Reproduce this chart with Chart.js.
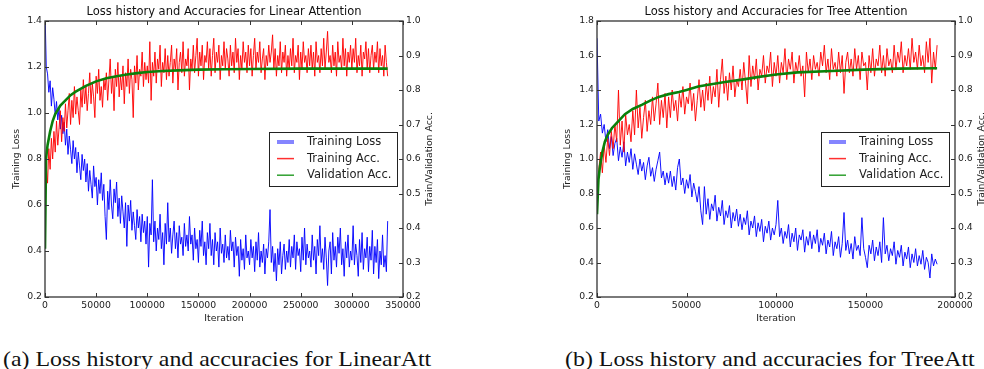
<!DOCTYPE html>
<html>
<head>
<meta charset="utf-8">
<script src="https://cdn.jsdelivr.net/npm/chart.js@4"></script>
<style>
  html, body { margin: 0; padding: 0; background: #fff; overflow: hidden; }
  body { width: 984px; height: 369px; position: relative; }
  .plot { position: absolute; top: 0; height: 330px; }
  .caption { position: absolute; top: 347px; font: 22px "Liberation Serif", serif; line-height: 24px; color: #111;
    white-space: nowrap; transform: scaleX(1.085); transform-origin: left center; }
</style>
</head>
<body>
<div class="plot" style="left:0;width:448px"><canvas id="chartA" width="448" height="330"></canvas></div>
<div class="plot" style="left:540px;width:472px"><canvas id="chartB" width="472" height="330"></canvas></div>
<div class="caption" style="left:3px">(a) Loss history and accuracies for LinearAtt</div>
<div class="caption" style="left:565px">(b) Loss history and accuracies for TreeAtt</div>
<script>
// (a) Linear Attention: one sample every 1250 iterations, 16 per row (20000 iterations)
const iterStepA = 1250;
const lossA = [
  1.45, 1.20, 1.17, 1.09, 1.14, 1.03, 1.11, 1.06, 0.99, 1.05, 0.97, 1.02, 0.93, 0.99, 0.91, 0.96,
  0.86, 0.93, 0.82, 0.90, 0.84, 0.78, 0.88, 0.80, 0.85, 0.74, 0.83, 0.77, 0.71, 0.82, 0.75, 0.80,
  0.70, 0.78, 0.66, 0.75, 0.69, 0.63, 0.77, 0.68, 0.72, 0.60, 0.71, 0.65, 0.74, 0.62, 0.69, 0.55,
  0.45, 0.66, 0.58, 0.71, 0.60, 0.54, 0.67, 0.61, 0.70, 0.55, 0.63, 0.52, 0.64, 0.57, 0.50, 0.61,
  0.42, 0.60, 0.53, 0.62, 0.49, 0.57, 0.51, 0.45, 0.58, 0.50, 0.55, 0.44, 0.56, 0.48, 0.53, 0.43,
  0.55, 0.33, 0.52, 0.47, 0.71, 0.44, 0.53, 0.40, 0.50, 0.45, 0.56, 0.41, 0.48, 0.34, 0.52, 0.43,
  0.61, 0.44, 0.50, 0.39, 0.47, 0.53, 0.41, 0.48, 0.37, 0.51, 0.43, 0.46, 0.38, 0.52, 0.42, 0.47,
  0.40, 0.55, 0.43, 0.47, 0.36, 0.50, 0.41, 0.45, 0.35, 0.49, 0.42, 0.53, 0.38, 0.44, 0.34, 0.48,
  0.41, 0.52, 0.38, 0.45, 0.34, 0.48, 0.40, 0.44, 0.33, 0.50, 0.39, 0.43, 0.35, 0.47, 0.37, 0.42,
  0.36, 0.49, 0.40, 0.44, 0.33, 0.46, 0.38, 0.42, 0.29, 0.45, 0.36, 0.41, 0.32, 0.47, 0.37, 0.40,
  0.34, 0.45, 0.37, 0.42, 0.31, 0.44, 0.36, 0.48, 0.33, 0.40, 0.35, 0.43, 0.30, 0.41, 0.37, 0.44,
  0.58, 0.35, 0.42, 0.31, 0.39, 0.27, 0.41, 0.34, 0.44, 0.30, 0.38, 0.43, 0.32, 0.40, 0.35, 0.45,
  0.33, 0.42, 0.37, 0.47, 0.32, 0.44, 0.38, 0.41, 0.31, 0.46, 0.36, 0.50, 0.34, 0.43, 0.37, 0.40,
  0.33, 0.47, 0.36, 0.42, 0.30, 0.45, 0.38, 0.51, 0.35, 0.41, 0.32, 0.46, 0.37, 0.25, 0.40, 0.44,
  0.30, 0.48, 0.36, 0.42, 0.33, 0.46, 0.39, 0.50, 0.34, 0.41, 0.29, 0.44, 0.37, 0.47, 0.33, 0.40,
  0.36, 0.51, 0.34, 0.43, 0.38, 0.29, 0.45, 0.35, 0.48, 0.32, 0.41, 0.37, 0.46, 0.31, 0.42, 0.36,
  0.49, 0.30, 0.42, 0.35, 0.45, 0.28, 0.40, 0.34, 0.47, 0.33, 0.38, 0.31, 0.53
];
const trainAccA = [
  0.48, 0.58, 0.53, 0.63, 0.57, 0.66, 0.60, 0.68, 0.62, 0.71, 0.64, 0.69, 0.74, 0.65, 0.72, 0.68,
  0.76, 0.69, 0.74, 0.79, 0.70, 0.77, 0.72, 0.81, 0.73, 0.78, 0.74, 0.70, 0.80, 0.75, 0.83, 0.76,
  0.81, 0.74, 0.79, 0.85, 0.76, 0.82, 0.78, 0.72, 0.84, 0.79, 0.86, 0.77, 0.81, 0.75, 0.83, 0.80,
  0.85, 0.77, 0.83, 0.89, 0.79, 0.84, 0.74, 0.86, 0.81, 0.88, 0.78, 0.84, 0.80, 0.87, 0.76, 0.85,
  0.81, 0.89, 0.79, 0.86, 0.83, 0.72, 0.87, 0.82, 0.90, 0.80, 0.86, 0.84, 0.91, 0.81, 0.88, 0.83,
  0.87, 0.82, 0.94, 0.77, 0.88, 0.84, 0.91, 0.82, 0.89, 0.86, 0.93, 0.81, 0.88, 0.85, 0.92, 0.83,
  0.90, 0.84, 0.88, 0.93, 0.82, 0.89, 0.86, 0.92, 0.80, 0.88, 0.91, 0.85, 0.94, 0.84, 0.89, 0.87,
  0.92, 0.80, 0.89, 0.86, 0.93, 0.85, 0.90, 0.95, 0.84, 0.91, 0.87, 0.93, 0.83, 0.90, 0.88, 0.94,
  0.86, 0.92, 0.84, 0.90, 0.95, 0.85, 0.91, 0.88, 0.93, 0.83, 0.90, 0.87, 0.94, 0.86, 0.92, 0.89,
  0.84, 0.93, 0.87, 0.91, 0.85, 0.95, 0.88, 0.92, 0.83, 0.90, 0.86, 0.94, 0.88, 0.91, 0.85, 0.93,
  0.87, 0.92, 0.84, 0.90, 0.95, 0.86, 0.91, 0.88, 0.94, 0.85, 0.89, 0.92, 0.83, 0.90, 0.87, 0.93,
  0.88, 0.91, 0.96, 0.86, 0.92, 0.84, 0.90, 0.87, 0.94, 0.85, 0.91, 0.88, 0.93, 0.84, 0.90, 0.86,
  0.92, 0.87, 0.95, 0.85, 0.90, 0.88, 0.93, 0.83, 0.91, 0.86, 0.94, 0.88, 0.90, 0.85, 0.92, 0.87,
  0.93, 0.86, 0.91, 0.84, 0.94, 0.88, 0.90, 0.85, 0.92, 0.87, 0.95, 0.86, 0.91, 0.97, 0.88, 0.90,
  0.85, 0.93, 0.87, 0.91, 0.84, 0.94, 0.88, 0.90, 0.86, 0.95, 0.87, 0.92, 0.84, 0.91, 0.88, 0.93,
  0.86, 0.92, 0.88, 0.95, 0.85, 0.90, 0.87, 0.93, 0.84, 0.91, 0.89, 0.94, 0.86, 0.92, 0.85, 0.90,
  0.93, 0.86, 0.91, 0.88, 0.94, 0.85, 0.92, 0.87, 0.90, 0.84, 0.93, 0.88, 0.84
];
const valIterA = [0, 1000, 2500, 5000, 7500, 10000, 15000, 20000, 25000, 30000, 40000, 50000, 60000,
  70000, 80000, 90000, 100000, 115000, 130000, 150000, 175000, 200000, 250000, 300000, 335000];
const valAccA = [0.34, 0.60, 0.64, 0.68, 0.71, 0.73, 0.755, 0.77, 0.785, 0.795, 0.812, 0.825, 0.834,
  0.840, 0.845, 0.849, 0.852, 0.855, 0.857, 0.859, 0.860, 0.861, 0.862, 0.862, 0.862];
const iterTicksA = [0, 50000, 100000, 150000, 200000, 250000, 300000, 350000];
const lossTicksA = [0.2, 0.4, 0.6, 0.8, 1.0, 1.2, 1.4];

// (b) Tree Attention: one sample every 1000 iterations, 20 per row (20000 iterations)
const iterStepB = 1000;
const lossB = [
  1.70, 1.22, 1.26, 1.15, 1.20, 1.10, 1.17, 1.06, 1.13, 1.02, 1.09, 1.12, 0.99, 1.07, 1.01, 1.10, 0.96, 1.04, 0.98, 1.06,
  0.94, 1.03, 0.97, 0.91, 1.00, 0.93, 0.98, 0.88, 0.96, 1.01, 0.90, 0.95, 0.87, 0.94, 0.99, 1.04, 0.89, 0.93, 0.85, 0.92,
  0.86, 0.93, 0.84, 0.90, 0.82, 0.95, 1.00, 0.85, 0.89, 0.80, 0.88, 0.83, 0.91, 0.78, 0.86, 0.81, 0.75, 0.84, 0.70, 0.62,
  0.84, 0.68, 0.77, 0.65, 0.74, 0.70, 0.79, 0.64, 0.72, 0.67, 0.76, 0.62, 0.70, 0.66, 0.73, 0.60, 0.69, 0.64, 0.71, 0.61,
  0.68, 0.59, 0.66, 0.62, 0.70, 0.56, 0.64, 0.60, 0.67, 0.55, 0.63, 0.58, 0.65, 0.52, 0.61, 0.57, 0.64, 0.53, 0.60, 0.56,
  0.62, 0.76, 0.55, 0.60, 0.51, 0.58, 0.54, 0.62, 0.49, 0.57, 0.52, 0.60, 0.47, 0.56, 0.53, 0.59, 0.46, 0.55, 0.50, 0.58,
  0.48, 0.56, 0.51, 0.59, 0.46, 0.54, 0.50, 0.57, 0.45, 0.53, 0.49, 0.58, 0.44, 0.52, 0.48, 0.55, 0.43, 0.51, 0.69, 0.47,
  0.53, 0.45, 0.51, 0.42, 0.55, 0.47, 0.50, 0.44, 0.66, 0.48, 0.43, 0.37, 0.50, 0.45, 0.53, 0.41, 0.49, 0.44, 0.52, 0.40,
  0.66, 0.45, 0.50, 0.41, 0.48, 0.44, 0.52, 0.39, 0.47, 0.43, 0.50, 0.38, 0.46, 0.42, 0.49, 0.37, 0.45, 0.40, 0.48, 0.38,
  0.44, 0.39, 0.47, 0.36, 0.43, 0.40, 0.31, 0.45, 0.38, 0.42, 0.39
];
const trainAccB = [
  0.48, 0.57, 0.62, 0.56, 0.64, 0.59, 0.66, 0.61, 0.68, 0.63, 0.70, 0.65, 0.80, 0.64, 0.71, 0.62, 0.73, 0.67, 0.70, 0.65,
  0.74, 0.67, 0.80, 0.69, 0.75, 0.66, 0.72, 0.77, 0.68, 0.74, 0.70, 0.78, 0.71, 0.76, 0.82, 0.70, 0.77, 0.72, 0.79, 0.69,
  0.78, 0.72, 0.80, 0.74, 0.77, 0.71, 0.79, 0.75, 0.81, 0.73, 0.78, 0.76, 0.82, 0.74, 0.79, 0.71, 0.77, 0.83, 0.75, 0.80,
  0.74, 0.82, 0.77, 0.84, 0.76, 0.81, 0.78, 0.86, 0.75, 0.83, 0.89, 0.79, 0.84, 0.77, 0.85, 0.80, 0.87, 0.78, 0.83, 0.81,
  0.86, 0.80, 0.88, 0.82, 0.76, 0.90, 0.81, 0.87, 0.83, 0.89, 0.80, 0.86, 0.84, 0.90, 0.82, 0.87, 0.85, 0.91, 0.81, 0.88,
  0.84, 0.90, 0.82, 0.88, 0.85, 0.92, 0.83, 0.89, 0.86, 0.91, 0.82, 0.88, 0.85, 0.90, 0.84, 0.87, 0.78, 0.91, 0.85, 0.89,
  0.83, 0.90, 0.86, 0.88, 0.84, 0.91, 0.87, 0.93, 0.85, 0.89, 0.83, 0.92, 0.86, 0.88, 0.84, 0.91, 0.85, 0.90, 0.79, 0.88,
  0.91, 0.85, 0.89, 0.84, 0.92, 0.86, 0.90, 0.83, 0.91, 0.87, 0.88, 0.80, 0.90, 0.85, 0.92, 0.84, 0.89, 0.87, 0.93, 0.85,
  0.90, 0.84, 0.92, 0.87, 0.89, 0.85, 0.93, 0.86, 0.91, 0.88, 0.94, 0.85, 0.90, 0.87, 0.92, 0.86, 0.95, 0.88, 0.91, 0.86,
  0.93, 0.87, 0.90, 0.85, 0.94, 0.88, 0.95, 0.82, 0.91, 0.86, 0.93
];
const valIterB = [0, 800, 1700, 3000, 4400, 6000, 8400, 12000, 15600, 20000, 25000, 30000, 34500,
  40000, 45800, 50000, 56500, 63000, 71500, 81000, 90500, 100000, 112000, 131000, 149000, 168000, 190000];
const valAccB = [0.44, 0.54, 0.58, 0.62, 0.65, 0.67, 0.69, 0.71, 0.73, 0.745, 0.757, 0.77, 0.78,
  0.788, 0.794, 0.80, 0.81, 0.816, 0.823, 0.83, 0.838, 0.845, 0.851, 0.855, 0.859, 0.862, 0.863];
const iterTicksB = [0, 50000, 100000, 150000, 200000];
const lossTicksB = [0.2, 0.4, 0.6, 0.8, 1.0, 1.2, 1.4, 1.6, 1.8];

const accTicks = [0.2, 0.3, 0.4, 0.5, 0.6, 0.7, 0.8, 0.9, 1.0];
const legendItems = [
  { label: 'Training Loss', color: 'rgba(120,120,255,0.9)', width: 4 },
  { label: 'Training Acc.', color: '#ff3030', width: 1.5 },
  { label: 'Validation Acc.', color: '#30a030', width: 1.5 }
];

const FONT = '"DejaVu Sans", sans-serif';

const axesFrame = {
  id: 'axesFrame',
  afterDatasetsDraw(chart, args, opts) {
    const { ctx, chartArea: a, scales } = chart;
    const tl = 4;
    ctx.save();
    ctx.strokeStyle = '#333';
    ctx.lineWidth = 1;
    ctx.beginPath();
    scales.x.ticks.forEach((t) => {
      const px = Math.round(scales.x.getPixelForValue(t.value)) + 0.5;
      ctx.moveTo(px, a.bottom); ctx.lineTo(px, a.bottom - tl);
      ctx.moveTo(px, a.top); ctx.lineTo(px, a.top + tl);
    });
    scales.y.ticks.forEach((t) => {
      const py = Math.round(scales.y.getPixelForValue(t.value)) + 0.5;
      ctx.moveTo(a.left, py); ctx.lineTo(a.left + tl, py);
    });
    scales.y1.ticks.forEach((t) => {
      const py = Math.round(scales.y1.getPixelForValue(t.value)) + 0.5;
      ctx.moveTo(a.right, py); ctx.lineTo(a.right - tl, py);
    });
    ctx.stroke();
    ctx.lineWidth = 1.3;
    ctx.strokeRect(a.left, a.top, a.right - a.left, a.bottom - a.top);

    // right axis title, reading bottom to top like matplotlib
    ctx.save();
    ctx.fillStyle = '#222';
    ctx.font = '9.3px ' + FONT;
    ctx.textAlign = 'center';
    ctx.textBaseline = 'middle';
    ctx.translate(a.right + 27, (a.top + a.bottom) / 2);
    ctx.rotate(-Math.PI / 2);
    ctx.fillText(opts.rightTitle, 0, 0);
    ctx.restore();

    // legend inside the plot, centre right
    const bw = 128, bh = 54;
    const bx = a.right - 6 - bw, by = (a.top + a.bottom) / 2 - bh / 2;
    ctx.fillStyle = '#fff';
    ctx.fillRect(bx, by, bw, bh);
    ctx.strokeStyle = '#222';
    ctx.lineWidth = 1;
    ctx.strokeRect(Math.round(bx) + 0.5, Math.round(by) + 0.5, bw, bh);
    ctx.font = '11.5px ' + FONT;
    ctx.textAlign = 'left';
    ctx.textBaseline = 'middle';
    legendItems.forEach((item, i) => {
      const y = by + 10 + i * 16.6;
      ctx.strokeStyle = item.color;
      ctx.lineWidth = item.width;
      ctx.beginPath();
      ctx.moveTo(bx + 8, y); ctx.lineTo(bx + 25, y);
      ctx.stroke();
      ctx.fillStyle = '#222';
      ctx.fillText(item.label, bx + 38, y);
    });
    ctx.restore();
  }
};

function makeChart(id, c) {
  const tickFont = { family: FONT, size: 9.3 };
  const series = (ys, step) => ys.map((y, i) => ({ x: i * step, y }));
  return new Chart(document.getElementById(id), {
    type: 'line',
    data: {
      datasets: [
        { label: 'Validation Acc.', data: c.valIter.map((x, i) => ({ x, y: c.valAcc[i] })), yAxisID: 'y1',
          borderColor: '#0a800a', borderWidth: 2.6 },
        { label: 'Training Acc.', data: series(c.trainAcc, c.step), yAxisID: 'y1',
          borderColor: 'rgba(255,0,0,0.92)', borderWidth: 1 },
        { label: 'Training Loss', data: series(c.loss, c.step), yAxisID: 'y',
          borderColor: 'rgba(0,0,255,0.92)', borderWidth: 1 }
      ]
    },
    options: {
      responsive: false,
      animation: false,
      devicePixelRatio: 1,
      elements: { point: { radius: 0 }, line: { tension: 0 } },
      layout: { padding: 0 },
      plugins: {
        legend: { display: false },
        tooltip: { enabled: false },
        title: { display: true, text: c.title, color: '#111', font: { family: FONT, size: 11.5, weight: 'normal' },
          padding: { top: 5.6, bottom: 1.6 } },
        axesFrame: { rightTitle: 'Train/Validation Acc.' }
      },
      scales: {
        x: {
          type: 'linear', min: 0, max: c.xMax,
          afterBuildTicks: (s) => { s.ticks = c.iterTicks.map((v) => ({ value: v })); },
          afterFit: (s) => { s.height = 33; },
          grid: { display: false, drawTicks: false }, border: { display: false },
          ticks: { font: tickFont, color: '#222', padding: 3.3, maxRotation: 0, autoSkip: false,
            callback: (v) => String(v) },
          title: { display: true, text: 'Iteration', color: '#222', font: tickFont, padding: { top: 0, bottom: 5.4 } }
        },
        y: {
          position: 'left', min: 0.2, max: c.lossMax,
          afterBuildTicks: (s) => { s.ticks = c.lossTicks.map((v) => ({ value: v })); },
          afterFit: (s) => { s.width = c.side; },
          grid: { display: false, drawTicks: false }, border: { display: false },
          ticks: { font: tickFont, color: '#222', padding: 3, callback: (v) => v.toFixed(1) },
          title: { display: true, text: 'Training Loss', color: '#222', font: tickFont,
            padding: { top: c.side === 45 ? 11.4 : 22.4, bottom: 0 } }
        },
        y1: {
          position: 'right', min: 0.2, max: 1.0,
          afterBuildTicks: (s) => { s.ticks = accTicks.map((v) => ({ value: v })); },
          afterFit: (s) => { s.width = c.side; },
          grid: { display: false, drawTicks: false }, border: { display: false },
          ticks: { font: tickFont, color: '#222', padding: 3, callback: (v) => v.toFixed(1) }
        }
      }
    },
    plugins: [axesFrame]
  });
}

makeChart('chartA', {
  title: 'Loss history and Accuracies for Linear Attention',
  step: iterStepA, loss: lossA, trainAcc: trainAccA, valIter: valIterA, valAcc: valAccA,
  iterTicks: iterTicksA, lossTicks: lossTicksA, xMax: 350000, lossMax: 1.4, side: 45
});
makeChart('chartB', {
  title: 'Loss history and Accuracies for Tree Attention',
  step: iterStepB, loss: lossB, trainAcc: trainAccB, valIter: valIterB, valAcc: valAccB,
  iterTicks: iterTicksB, lossTicks: lossTicksB, xMax: 200000, lossMax: 1.8, side: 57
});
</script>
</body>
</html>
